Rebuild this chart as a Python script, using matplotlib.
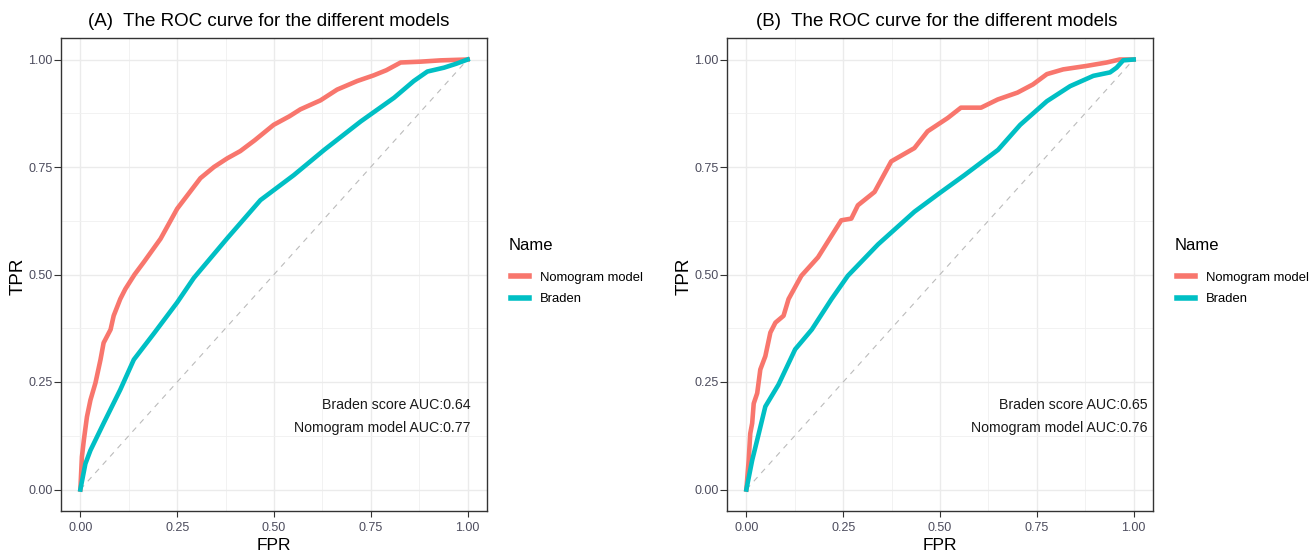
import matplotlib.pyplot as plt
from matplotlib.ticker import MultipleLocator

plt.rcParams['font.family'] = ['Liberation Sans', 'DejaVu Sans']

RED = '#F8766D'
TEAL = '#00BFC4'

# (A) ROC points
a_nomo_fpr = [0, 0.004, 0.009, 0.017, 0.026, 0.039, 0.052, 0.06, 0.078, 0.086, 0.103, 0.116, 0.14,
              0.164, 0.207, 0.25, 0.31, 0.345, 0.379, 0.413, 0.45, 0.499, 0.54, 0.568, 0.62, 0.663,
              0.715, 0.757, 0.79, 0.827, 0.879, 0.93, 1.0]
a_nomo_tpr = [0, 0.076, 0.115, 0.169, 0.208, 0.248, 0.302, 0.341, 0.372, 0.404, 0.443, 0.466, 0.50,
              0.529, 0.583, 0.653, 0.724, 0.75, 0.77, 0.787, 0.812, 0.848, 0.868, 0.884, 0.905, 0.93,
              0.95, 0.963, 0.975, 0.993, 0.995, 0.998, 1.0]
a_brad_fpr = [0, 0.013, 0.026, 0.06, 0.103, 0.138, 0.19, 0.25, 0.293, 0.38, 0.465, 0.551, 0.63,
              0.724, 0.81, 0.861, 0.896, 0.939, 0.97, 1.0]
a_brad_tpr = [0, 0.06, 0.091, 0.154, 0.232, 0.302, 0.363, 0.435, 0.492, 0.585, 0.673, 0.731, 0.79,
              0.856, 0.911, 0.95, 0.972, 0.981, 0.99, 1.0]

# (B)
b_nomo_fpr = [0, 0.006, 0.01, 0.015, 0.019, 0.028, 0.036, 0.049, 0.062, 0.075, 0.096, 0.109, 0.142,
              0.185, 0.245, 0.271, 0.288, 0.331, 0.374, 0.434, 0.468, 0.52, 0.554, 0.606, 0.649,
              0.70, 0.74, 0.776, 0.818, 0.878, 0.93, 0.964, 1.0]
b_nomo_tpr = [0, 0.068, 0.13, 0.154, 0.2, 0.224, 0.279, 0.31, 0.365, 0.388, 0.404, 0.443, 0.497,
              0.54, 0.626, 0.63, 0.661, 0.692, 0.763, 0.794, 0.833, 0.864, 0.888, 0.888, 0.907,
              0.923, 0.942, 0.966, 0.977, 0.985, 0.993, 1.0, 1.0]
b_brad_fpr = [0, 0.015, 0.032, 0.049, 0.083, 0.126, 0.169, 0.22, 0.262, 0.34, 0.434, 0.5, 0.563,
              0.65, 0.707, 0.776, 0.836, 0.896, 0.939, 0.956, 0.973, 1.0]
b_brad_tpr = [0, 0.068, 0.13, 0.193, 0.244, 0.326, 0.372, 0.443, 0.497, 0.57, 0.646, 0.69, 0.731,
              0.79, 0.848, 0.903, 0.938, 0.962, 0.97, 0.981, 0.998, 1.0]

series_names = ['Nomogram model', 'Braden']
ticks = [0.0, 0.25, 0.5, 0.75, 1.0]
tick_labels = ['0.00', '0.25', '0.50', '0.75', '1.00']
auc_a = ['Braden score AUC:0.64', 'Nomogram model AUC:0.77']
auc_b = ['Braden score AUC:0.65', 'Nomogram model AUC:0.76']

W, H = 1309, 551
fig = plt.figure(figsize=(W / 100, H / 100), dpi=100)


def panel(left, title, title_x, nomo, brad, auc, auc_x):
    ax = fig.add_axes([left / W, 1 - 511 / H, 426 / W, 473 / H])
    ax.plot([0, 1], [0, 1], ls=(0, (5, 5)), color='#BBBBBB', lw=0.8, zorder=2)
    ax.plot(nomo[0], nomo[1], color=RED, lw=3.3, label=series_names[0], zorder=3)
    ax.plot(brad[0], brad[1], color=TEAL, lw=3.3, label=series_names[1], zorder=4)
    ax.set_xlim(-0.05, 1.05)
    ax.set_ylim(-0.05, 1.05)
    ax.set_xticks(ticks)
    ax.set_yticks(ticks)
    ax.set_xticklabels(tick_labels)
    ax.set_yticklabels(tick_labels)
    ax.xaxis.set_minor_locator(MultipleLocator(0.125))
    ax.yaxis.set_minor_locator(MultipleLocator(0.125))
    ax.grid(which='major', color='#EBEBEB', lw=1.0, zorder=0)
    ax.grid(which='minor', color='#F0F0F0', lw=0.6, zorder=0)
    ax.set_axisbelow(True)
    ax.tick_params(which='minor', length=0)
    ax.tick_params(axis='x', length=4.3, width=0.8, color='#333333', labelcolor='#4D4D5E',
                   labelsize=9, pad=3.5)
    ax.tick_params(axis='y', length=5, width=0.8, color='#333333', labelcolor='#4D4D5E',
                   labelsize=9, pad=1)
    for s in ax.spines.values():
        s.set_color('#333333')
        s.set_linewidth(1.0)
    for i, t in enumerate(auc):
        ax.text(auc_x, 0.197 - i * 0.054, t, ha='right', va='center', fontsize=10.2,
                color='#1a1a1a')
    fig.text(title_x / W, 1 - 22 / H, title, ha='center', va='center', fontsize=13.5)
    fig.text((left + 213) / W, 1 - 538 / H, 'FPR', ha='center', va='top', fontsize=12.5)
    fig.text((left - 43) / W, 1 - 276 / H, 'TPR', ha='center', va='center', rotation=90,
             fontsize=13.5)
    fig.text((left + 448) / W, 1 - 245 / H, 'Name', ha='left', va='center', fontsize=12)
    leg = ax.legend(loc='upper left', bbox_to_anchor=(1.056, 0.506), frameon=False,
                    fontsize=9.4, handlelength=1.4, handletextpad=0.85,
                    labelspacing=0.73, borderpad=0, borderaxespad=0)
    for line in leg.get_lines():
        line.set_linewidth(4)
    return ax


panel(61, '(A)  The ROC curve for the different models', 269,
      (a_nomo_fpr, a_nomo_tpr), (a_brad_fpr, a_brad_tpr), auc_a, 1.008)
panel(727, '(B)  The ROC curve for the different models', 937,
      (b_nomo_fpr, b_nomo_tpr), (b_brad_fpr, b_brad_tpr), auc_b, 1.035)

fig.savefig('out.png', dpi=100, facecolor='white')
